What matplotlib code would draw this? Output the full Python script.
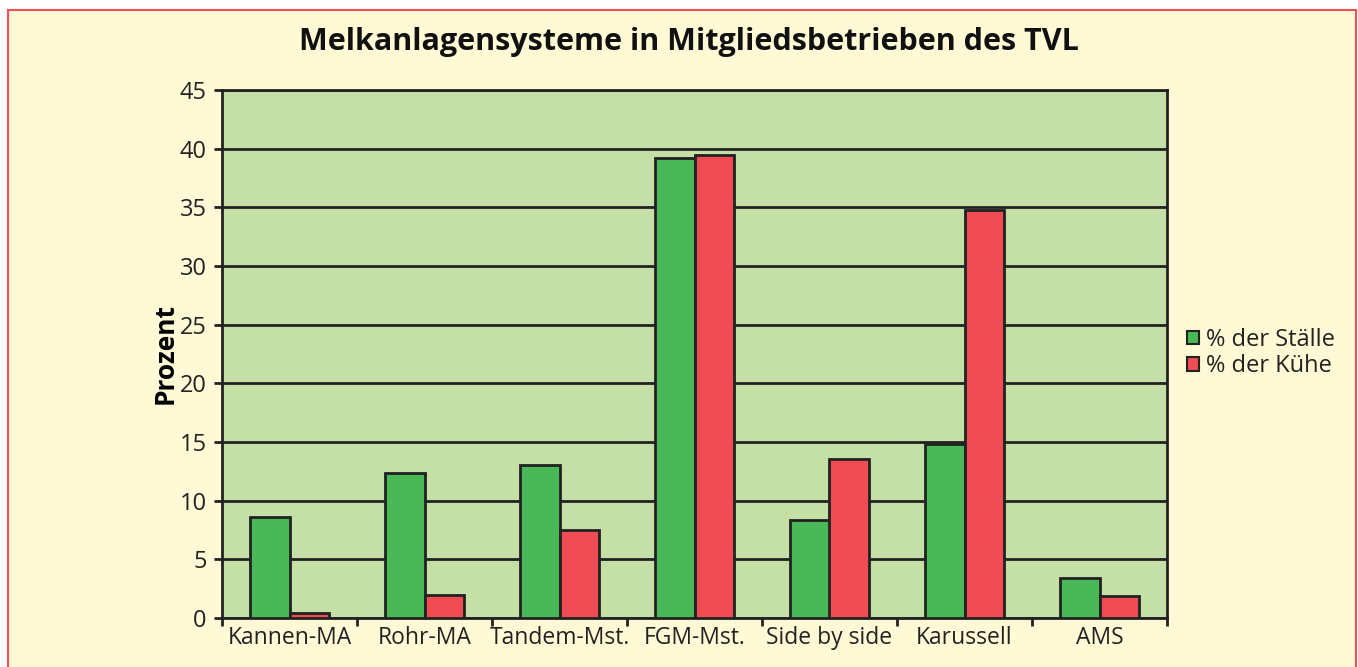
import matplotlib
matplotlib.use("Agg")
import matplotlib.pyplot as plt
import numpy as np
from matplotlib.patches import Rectangle

categories = ["Kannen-MA", "Rohr-MA", "Tandem-Mst.", "FGM-Mst.", "Side by side", "Karussell", "AMS"]
staelle = [8.6, 12.4, 13.0, 39.2, 8.35, 14.8, 3.4]
kuehe = [0.4, 2.0, 7.5, 39.5, 13.55, 34.8, 1.9]
series_labels = ["% der Ställe", "% der Kühe"]
yticks = [0, 5, 10, 15, 20, 25, 30, 35, 40, 45]
title = "Melkanlagensysteme in Mitgliedsbetrieben des TVL"
ylabel = "Prozent"

plt.rcParams['font.family'] = ['Open Sans', 'DejaVu Sans']

W, H = 1358, 667
fig = plt.figure(figsize=(W/100, H/100), dpi=100)
fig.patch.set_facecolor("white")
# cream panel with red border
fig.patches.append(Rectangle((8/W, -0.05), (1356-8)/W, (H-10)/H + 0.05, transform=fig.transFigure,
                             facecolor="#FFF9D6", edgecolor="#F0505A", linewidth=1.5, zorder=-10))

ax = fig.add_axes([222/W, 1-618/H, (1167-222)/W, (618-90)/H])
ax.set_facecolor("#C5E0A6")
x = np.arange(len(categories))
bw = 0.29
ax.bar(x - bw/2, staelle, bw, color="#49B957", edgecolor="#222222", linewidth=2, label=series_labels[0], zorder=3)
ax.bar(x + bw/2, kuehe, bw, color="#EF4C53", edgecolor="#222222", linewidth=2, label=series_labels[1], zorder=3)

ax.set_xlim(-0.5, len(categories) - 0.5)
ax.set_ylim(0, 45)
ax.set_yticks(yticks)
ax.yaxis.grid(True, color="#222222", linewidth=2)
ax.set_axisbelow(True)
ax.set_xticks(np.arange(len(categories) + 1) - 0.5)
ax.set_xticklabels([])
ax.set_xticks(x, minor=True)
ax.set_xticklabels(categories, minor=True, fontsize=16.5, color="#222222")
ax.tick_params(axis="x", which="minor", length=0, pad=6)
ax.tick_params(axis="x", which="major", length=6, width=2, color="#222222")
ax.tick_params(axis="y", length=6, width=2, color="#222222", labelsize=17, labelcolor="#222222", pad=5)
for s in ax.spines.values():
    s.set_color("#222222")
    s.set_linewidth(2)

ax.set_ylabel(ylabel, fontsize=19, fontweight="bold", labelpad=1)
fig.text(689/W, 1-42/H, title, ha="center", va="center", fontsize=22, fontweight="bold", color="#111111")

leg = fig.legend(loc="center left", bbox_to_anchor=(1166/W, 1-353/H), frameon=False, fontsize=17,
                 handlelength=0.5, handleheight=0.5, handletextpad=0.3, labelspacing=0.1,
                 labelcolor="#222222")
for h in leg.legend_handles:
    h.set_linewidth(1.5)

fig.savefig("out.png", dpi=100, facecolor=fig.get_facecolor())
